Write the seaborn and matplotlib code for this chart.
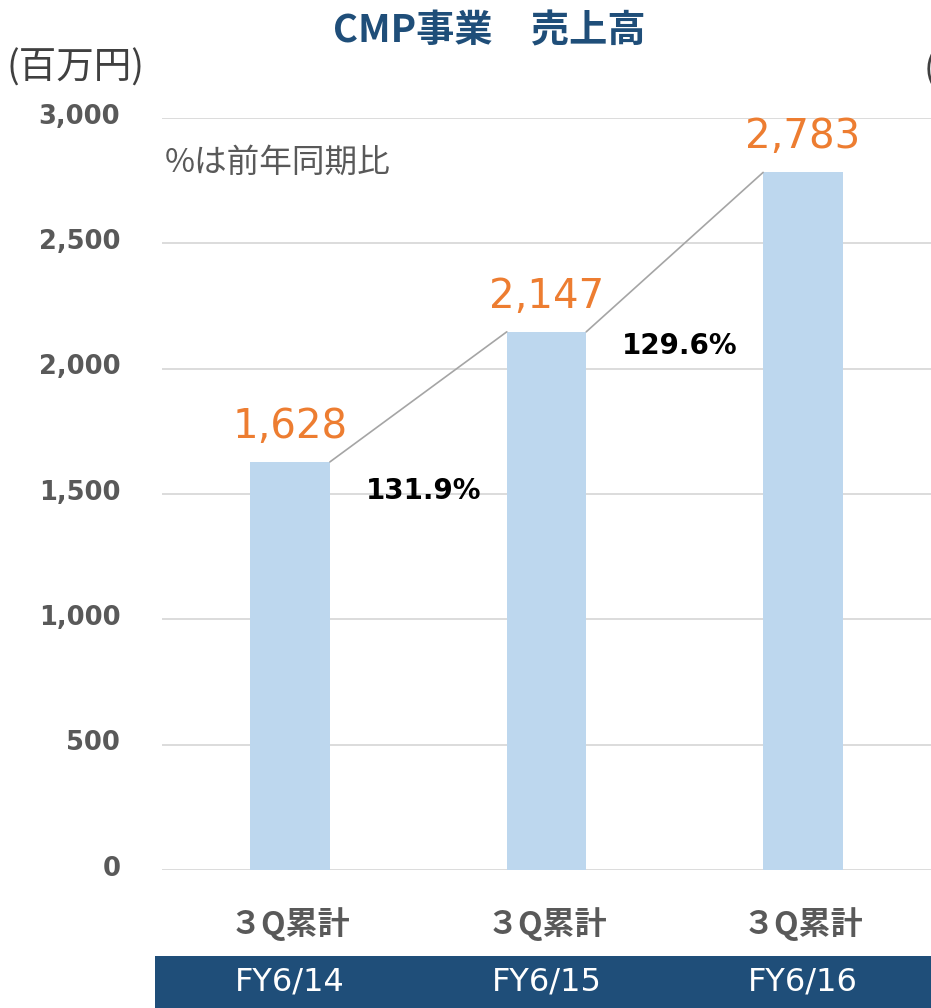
import matplotlib
matplotlib.use("Agg")
import matplotlib.pyplot as plt
import matplotlib.transforms as mtransforms
from matplotlib.patches import Rectangle
import seaborn as sns
import pandas as pd

# ---- data ----
fiscal_years = ["FY6/14", "FY6/15", "FY6/16"]
period_label = "３Q累計"
sales = [1628, 2147, 2783]
yoy_labels = ["131.9%", "129.6%"]
y_ticks = [0, 500, 1000, 1500, 2000, 2500, 3000]

df = pd.DataFrame({"fy": fiscal_years, "sales": sales})

sns.set_theme(style="white")
CJK = ["Noto Sans CJK JP", "DejaVu Sans"]
LAT = ["DejaVu Sans", "Noto Sans CJK JP"]
plt.rcParams["font.family"] = LAT

W, H = 931, 1008
fig = plt.figure(figsize=(W / 100, H / 100), dpi=100)
ax = fig.add_axes([162 / W, (H - 870) / H, (W - 162) / W, (870 - 118) / H])
ax.set_facecolor("none")

sns.barplot(data=df, x="fy", y="sales", order=fiscal_years, color="#BDD7EE",
            saturation=1, width=0.31, linewidth=0, ax=ax, zorder=3)

ax.set_xlim(-0.5, 2.5)
ax.set_ylim(0, 3000)
ax.set_yticks(y_ticks)
ax.set_yticklabels([f"{v:,}" for v in y_ticks], fontsize=18.5, fontweight="bold",
                   color="#595959")
ax.tick_params(axis="y", length=0, pad=30)
shift = mtransforms.ScaledTranslation(0, 3 / 72, fig.dpi_scale_trans)
for lbl in ax.get_yticklabels():
    lbl.set_transform(lbl.get_transform() + shift)
ax.set_xticks(range(len(fiscal_years)))
ax.set_xticklabels([period_label] * len(fiscal_years), family=CJK, fontsize=23,
                   fontweight="bold", color="#595959")
ax.tick_params(axis="x", length=0, pad=27)
ax.set_xlabel("")
ax.set_ylabel("")
for s in ax.spines.values():
    s.set_visible(False)
ax.yaxis.grid(True, color="#D9D9D9", linewidth=1.3, zorder=0)
ax.set_axisbelow(True)

bars = ax.patches
# value labels
for b, v in zip(bars, sales):
    ax.annotate(f"{v:,}", (b.get_x() + b.get_width() / 2, b.get_height()),
                xytext=(0, 11), textcoords="offset points", ha="center", va="bottom",
                fontsize=29, color="#ED7D31", annotation_clip=False)

# connector lines and growth labels
for i in range(len(bars) - 1):
    b0, b1 = bars[i], bars[i + 1]
    x0 = b0.get_x() + b0.get_width()
    x1 = b1.get_x()
    ax.plot([x0, x1], [b0.get_height(), b1.get_height()], color="#A5A5A5",
            linewidth=1.2, zorder=4)
    mid = (b0.get_height() + b1.get_height()) / 2
    ax.text(i + 0.52, mid - 375, yoy_labels[i], ha="center", va="center",
            fontsize=20, fontweight="bold", color="black")

# note
fig.text(165 / W, 1 - 163 / H, "%は前年同期比", family=CJK, fontsize=23.5,
         color="#595959", ha="left", va="center")

# title and unit
fig.text(489 / W, 1 - 31 / H, "CMP事業　売上高", family=CJK, fontsize=27.5,
         fontweight="bold", color="#1F4E79", ha="center", va="center")
fig.text(7 / W, 1 - 68 / H, "(百万円)", family=CJK, fontsize=27,
         color="#404040", ha="left", va="center")
fig.text(924 / W, 1 - 70 / H, "(", family=CJK, fontsize=26,
         color="#404040", ha="left", va="center")

# bottom band with fiscal years
fig.patches.append(Rectangle((155 / W, 0), (W - 155) / W, (H - 956) / H,
                             transform=fig.transFigure, facecolor="#1F4E79",
                             edgecolor="none", zorder=-5))
for i, fy in enumerate(fiscal_years):
    xfig = fig.transFigure.inverted().transform(ax.transData.transform((i, 0)))[0]
    fig.text(xfig, 1 - 982 / H, fy, ha="center", va="center",
             fontsize=23, color="white", zorder=5)

fig.savefig("out.png", dpi=100)
